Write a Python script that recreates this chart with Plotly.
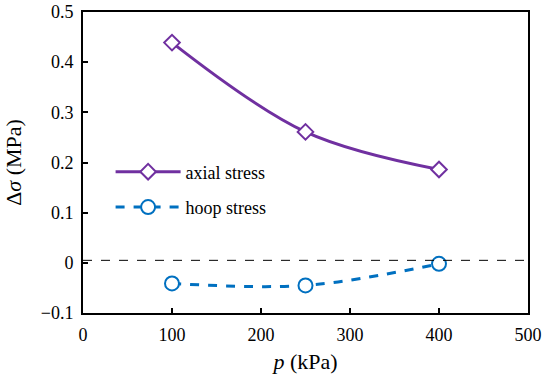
import plotly.graph_objects as go

p_kpa = [100, 250, 400]
axial_stress = [0.439, 0.261, 0.186]
hoop_stress = [-0.041, -0.045, -0.002]
x_ticks = [0, 100, 200, 300, 400, 500]
y_ticks = [-0.1, 0, 0.1, 0.2, 0.3, 0.4, 0.5]

purple = "#7030A0"
blue = "#0070C0"
font = "Times New Roman, Liberation Serif, DejaVu Serif, serif"

fig = go.Figure()
fig.add_trace(go.Scatter(
    x=p_kpa, y=axial_stress, name="axial stress", mode="lines+markers", legendgroup="a",
    line=dict(color=purple, width=3, shape="spline"),
    marker=dict(symbol="diamond", size=12, color="white", line=dict(color=purple, width=2)),
))
fig.add_trace(go.Scatter(
    x=p_kpa, y=hoop_stress, name="hoop stress", mode="lines+markers", legendgroup="b",
    line=dict(color=blue, width=3, shape="spline", dash="dash"),
    marker=dict(symbol="circle", size=14, color="white", line=dict(color=blue, width=2)),
))
fig.add_hline(y=0.005, line=dict(color="black", width=1, dash="dash"))

fig.update_layout(
    width=550, height=384,
    margin=dict(l=83, r=22, t=12, b=71),
    paper_bgcolor="white", plot_bgcolor="white",
    font=dict(family=font, size=18, color="black"),
    showlegend=True,
    legend=dict(x=0.062, y=0.53, xanchor="left", yanchor="top",
                bgcolor="rgba(0,0,0,0)", font=dict(size=18),
                itemwidth=65, tracegroupgap=9),
    xaxis=dict(range=[0, 500], tickvals=x_ticks, showgrid=False, zeroline=False,
               showline=True, linecolor="black", linewidth=2, mirror=True,
               ticks="inside", ticklen=5, tickwidth=2, tickcolor="black",
               automargin=False, ticklabelstandoff=4,
               title=dict(text="<i>p</i> (kPa)", standoff=10)),
    yaxis=dict(range=[-0.1, 0.5], tickvals=y_ticks, showgrid=False, zeroline=False,
               showline=True, linecolor="black", linewidth=2, mirror=True,
               ticks="inside", ticklen=5, tickwidth=2, tickcolor="black",
               automargin=False, ticklabelstandoff=4,
               title=dict(text="Δ<i>σ</i> (MPa)", standoff=13)),
)
fig.write_html("out.html", config={"displayModeBar": False},
               post_script="document.body.style.margin='0';")
